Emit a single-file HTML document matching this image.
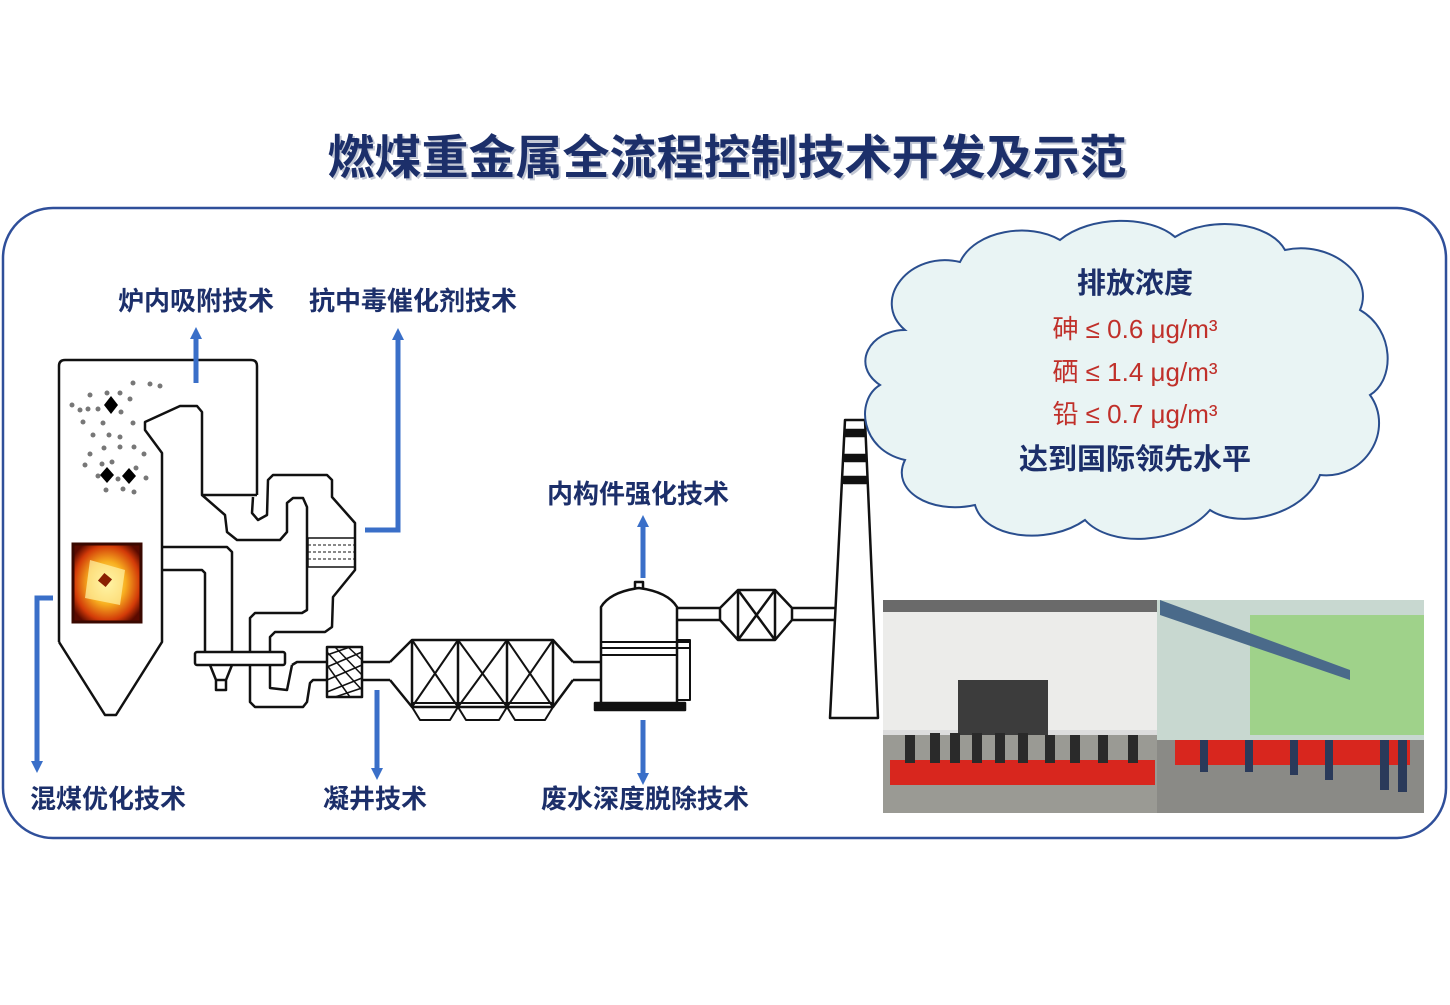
<!DOCTYPE html>
<html><head><meta charset="utf-8">
<style>
html,body{margin:0;padding:0;background:#fff;}
body{width:1450px;height:1000px;overflow:hidden;font-family:"Liberation Sans","Noto Sans CJK SC",sans-serif;}
svg text{font-family:"Liberation Sans","Noto Sans CJK SC",sans-serif;}
</style></head><body>
<svg width="1450" height="1000" viewBox="0 0 1450 1000" xmlns="http://www.w3.org/2000/svg">
<defs>
<marker id="ah" markerWidth="12" markerHeight="12" refX="5" refY="6" orient="auto" markerUnits="userSpaceOnUse">
<path d="M0,0 L12,6 L0,12 z" fill="#3a6fc8"/></marker>
<radialGradient id="fire" cx="0.5" cy="0.5" r="0.6">
<stop offset="0" stop-color="#fff6a0"/><stop offset="0.45" stop-color="#f8b020"/><stop offset="0.8" stop-color="#d23a08"/><stop offset="1" stop-color="#5a0a00"/></radialGradient>
</defs>
<text x="727" y="174" text-anchor="middle" font-size="47" font-weight="bold" fill="#9aa3b8" opacity="0.6" transform="translate(2,2)">燃煤重金属全流程控制技术开发及示范</text>
<text x="727" y="174" text-anchor="middle" font-size="47" font-weight="bold" fill="#1c2f6a">燃煤重金属全流程控制技术开发及示范</text>
<rect x="3" y="208" width="1443" height="630" rx="50" fill="none" stroke="#2f4f9a" stroke-width="2.5"/>

<g fill="none" stroke="#111" stroke-width="2.5" stroke-linejoin="round">
<path d="M59,642 V366 Q59,360 65,360 H251 Q257,360 257,366 V495"/>
<path d="M59,642 L105,715 H116 L162,642 V453 L145,430 V422 L180,406 H197 L202,412 V495 H257"/>
<path d="M202,495 L225,515 L227,532 L237,540 H280 L287,532 V503 L293,498 H303 L307,507 V610 L302,613 H255 L250,618 V652"/>
<path d="M253,497 L252,513 L258,520 L267,515 L268,480 L273,475 H327 L332,480 V497 L355,523 V570 L333,597 L332,627 L325,632 H275 L270,637 V652"/>
<rect x="308" y="538" width="47" height="29" stroke-width="1.5"/>
<path d="M308,545 H355 M308,552 H355 M308,559 H355" stroke-width="1" stroke-dasharray="3,2"/>
<path d="M162,547 H227 L232,552 V652 M162,570 H202 L205,573 V652"/>
<rect x="195" y="652" width="90" height="13" rx="2"/>
<path d="M210,665 L216,680 H226 L232,665 M216,680 V690 H226 V680"/>
<path d="M250,665 V702 L255,707 H303 L307,702 L310,683 L313,680 H327 M270,665 V688 L287,690 L292,665 M292,665 L297,662 H327"/>
<rect x="327" y="647" width="35" height="50"/>
<path d="M327,655 L350,647 M327,667 L362,652 M327,680 L362,665 M327,692 L362,678 M335,697 L362,688 M327,652 L362,690 M327,665 L350,697 M335,647 L362,675 M348,647 L362,660" stroke-width="1.5"/>
<path d="M362,662 H390 M362,680 H390 M390,662 L412,640 H553 L573,662 M390,680 L412,707 H553 L573,680"/>
<path d="M412,640 V707 M458,640 V707 M507,640 V707 M553,640 V707"/>
<path d="M412,640 L458,707 M458,640 L412,707 M458,640 L507,707 M507,640 L458,707 M507,640 L553,707 M553,640 L507,707" stroke-width="2"/>
<path d="M412,707 L420,720 H450 L458,707 L466,720 H499 L507,707 L515,720 H545 L553,707 M412,703 H553" stroke-width="2"/>
<path d="M573,662 H601 M573,680 H601"/>
<path d="M601,705 V607 Q610,592 639,588 Q668,592 677,607 V705"/>
<path d="M635,588 V582 H643 V588"/>
<path d="M601,642 H690 M601,648 H690 M601,655 H677 M677,640 H690 V700 H677" stroke-width="2"/>
<rect x="595" y="703" width="90" height="7" fill="#111"/>
<path d="M678,608 H720 M678,620 H720 M720,608 V620 L738,640 H775 L792,620 V608 L775,590 H738 L720,608 M738,590 V640 M775,590 V640 M738,590 L775,640 M775,590 L738,640 M792,608 H835 M792,620 H835"/>
<path d="M845,420 H865 L878,718 H830 Z"/>
<rect x="845" y="430" width="20" height="6" fill="#111"/>
<rect x="845" y="455" width="21" height="6" fill="#111"/>
<rect x="844" y="477" width="22" height="6" fill="#111"/>
</g>
<g fill="#777">
<circle cx="80" cy="410" r="2.5"/><circle cx="90" cy="395" r="2.5"/><circle cx="107" cy="393" r="2.5"/><circle cx="120" cy="393" r="2.5"/><circle cx="133" cy="383" r="2.5"/><circle cx="150" cy="384" r="2.5"/><circle cx="160" cy="386" r="2.5"/><circle cx="72" cy="405" r="2.5"/><circle cx="88" cy="409" r="2.5"/><circle cx="98" cy="409" r="2.5"/><circle cx="130" cy="399" r="2.5"/><circle cx="121" cy="412" r="2.5"/><circle cx="83" cy="422" r="2.5"/><circle cx="103" cy="423" r="2.5"/><circle cx="133" cy="423" r="2.5"/><circle cx="93" cy="435" r="2.5"/><circle cx="109" cy="435" r="2.5"/><circle cx="120" cy="437" r="2.5"/><circle cx="104" cy="448" r="2.5"/><circle cx="120" cy="447" r="2.5"/><circle cx="134" cy="447" r="2.5"/><circle cx="90" cy="454" r="2.5"/><circle cx="144" cy="454" r="2.5"/><circle cx="85" cy="465" r="2.5"/><circle cx="102" cy="464" r="2.5"/><circle cx="112" cy="462" r="2.5"/><circle cx="136" cy="468" r="2.5"/><circle cx="98" cy="476" r="2.5"/><circle cx="146" cy="478" r="2.5"/><circle cx="106" cy="490" r="2.5"/><circle cx="123" cy="489" r="2.5"/><circle cx="134" cy="492" r="2.5"/><circle cx="118" cy="479" r="2.5"/>
</g>
<g fill="#000">
<path d="M111,396 L118,405 L111,414 L104,405Z"/><path d="M107,467 L114,475 L107,483 L100,475Z"/><path d="M129,468 L136,476 L129,484 L122,476Z"/>
</g>
<rect x="73" y="544" width="68" height="78" fill="url(#fire)" stroke="#3a0800" stroke-width="3"/>
<path d="M90,560 L125,570 L120,605 L85,598Z" fill="#fff3a8" opacity="0.7"/>
<rect x="100" y="575" width="10" height="10" fill="#8a2000" transform="rotate(40 105 580)"/>

<g stroke="#3a6fc8" stroke-width="5" fill="none" marker-end="url(#ah)">
<path d="M196,383 V334"/>
<path d="M365,530 H398 V335"/>
<path d="M53,598 H37 V766"/>
<path d="M377,690 V773"/>
<path d="M643,578 V522"/>
<path d="M643,720 V778"/>
</g>
<g font-size="26" font-weight="bold" fill="#1c2f6a" text-anchor="middle">
<text x="196" y="310">炉内吸附技术</text>
<text x="413" y="310">抗中毒催化剂技术</text>
<text x="638" y="503">内构件强化技术</text>
<text x="108" y="808">混煤优化技术</text>
<text x="375" y="808">凝井技术</text>
<text x="645" y="808">废水深度脱除技术</text>
</g>

<path d="M905,330 C870,300 910,250 960,262 C975,230 1030,222 1060,240 C1090,215 1150,215 1175,237 C1210,215 1270,222 1285,250 C1330,240 1375,275 1360,310 C1395,330 1395,380 1370,395 C1395,430 1365,480 1320,475 C1305,515 1240,530 1210,510 C1180,545 1110,548 1085,520 C1050,545 985,540 975,505 C930,515 890,490 905,460 C860,450 855,400 880,385 C850,365 870,330 905,330Z" fill="#e9f4f4" stroke="#2a4e8e" stroke-width="2"/>
<g text-anchor="middle">
<text x="1135" y="293" font-size="29" font-weight="bold" fill="#1c2f6a">排放浓度</text>
<text x="1135" y="338" font-size="26" fill="#c0302a">砷 ≤ 0.6 μg/m³</text>
<text x="1135" y="381" font-size="26" fill="#c0302a">硒 ≤ 1.4 μg/m³</text>
<text x="1135" y="423" font-size="26" fill="#c0302a">铅 ≤ 0.7 μg/m³</text>
<text x="1135" y="469" font-size="29" font-weight="bold" fill="#1c2f6a">达到国际领先水平</text>
</g>

<rect x="883" y="600" width="274" height="213" fill="#dcdcdc"/>
<rect x="883" y="610" width="274" height="120" fill="#ececea"/>
<rect x="883" y="600" width="274" height="12" fill="#6a6a6a"/>
<rect x="958" y="680" width="90" height="55" fill="#3c3c3c"/>
<rect x="883" y="735" width="274" height="78" fill="#9a9a94"/>
<rect x="890" y="760" width="265" height="25" fill="#d8261e"/>
<g fill="#2a2a2a"><rect x="905" y="735" width="10" height="28"/><rect x="930" y="733" width="10" height="30"/><rect x="950" y="733" width="10" height="30"/><rect x="972" y="733" width="10" height="30"/><rect x="995" y="733" width="10" height="30"/><rect x="1018" y="733" width="10" height="30"/><rect x="1045" y="735" width="10" height="28"/><rect x="1070" y="735" width="10" height="28"/><rect x="1098" y="735" width="10" height="28"/><rect x="1128" y="735" width="10" height="28"/></g>
<rect x="1157" y="600" width="267" height="213" fill="#c8d8d0"/>
<rect x="1250" y="615" width="174" height="120" fill="#9fd28a"/>
<path d="M1160,600 L1350,670 L1350,680 L1160,615Z" fill="#4a6a8a"/>
<rect x="1157" y="740" width="267" height="73" fill="#8a8a86"/>
<rect x="1175" y="740" width="235" height="25" fill="#d8261e"/>
<g fill="#2a3a5a"><rect x="1200" y="740" width="8" height="32"/><rect x="1245" y="740" width="8" height="32"/><rect x="1290" y="740" width="8" height="35"/><rect x="1325" y="740" width="8" height="40"/><rect x="1380" y="740" width="9" height="50"/><rect x="1398" y="740" width="9" height="52"/></g>
</svg>
</body></html>
